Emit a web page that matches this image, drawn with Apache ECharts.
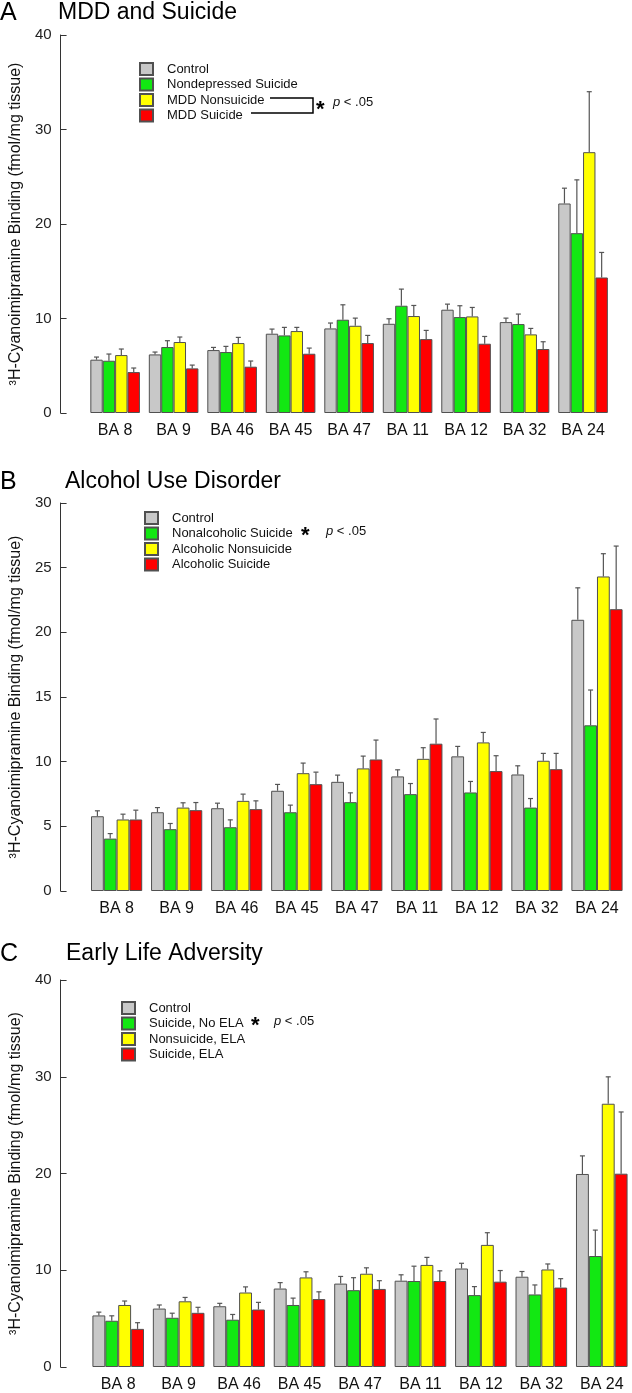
<!DOCTYPE html>
<html>
<head>
<meta charset="utf-8">
<script src="https://cdn.jsdelivr.net/npm/echarts@6/dist/echarts.min.js"></script>
<style>
html,body{margin:0;padding:0;background:#fff;}
#chart{width:632px;height:1393px;}
</style>
</head>
<body>
<div id="chart"></div>
<script>
// ---------- DATA ----------
const categories = ['BA 8','BA 9','BA 46','BA 45','BA 47','BA 11','BA 12','BA 32','BA 24'];

// Panel A: MDD and Suicide (mean, SEM)
const aNames = ['Control','Nondepressed Suicide','MDD Nonsuicide','MDD Suicide'];
const aControl     = [5.64,6.20,6.66,8.39,8.95,9.44,10.93,9.62,22.17];
const aControlSem  = [0.28,0.25,0.28,0.49,0.57,0.53,0.59,0.42,1.62];
const aNondepSui   = [5.53,6.98,6.45,8.21,9.87,11.35,10.15,9.41,19.03];
const aNondepSuiSem= [0.71,0.67,0.60,0.85,1.58,1.76,1.20,1.06,5.64];
const aMddNonsui   = [6.13,7.51,7.40,8.67,9.23,10.26,10.22,8.32,27.60];
const aMddNonsuiSem= [0.64,0.53,0.60,0.39,0.81,1.12,0.95,0.63,6.40];
const aMddSui      = [4.33,4.72,4.90,6.27,7.40,7.82,7.33,6.77,14.34];
const aMddSuiSem   = [0.43,0.35,0.60,0.60,0.81,0.92,0.77,0.77,2.65];
const aTicks = [0,10,20,30,40];

// Panel B: Alcohol Use Disorder
const bNames = ['Control','Nonalcoholic Suicide','Alcoholic Nonsuicide','Alcoholic Suicide'];
const bControl     = [5.78,6.09,6.40,7.75,8.44,8.86,10.41,9.01,20.97];
const bControlSem  = [0.42,0.36,0.39,0.49,0.52,0.51,0.77,0.67,2.47];
const bNonalcSui   = [4.05,4.78,4.93,6.09,6.87,7.49,7.62,6.45,12.81];
const bNonalcSuiSem= [0.39,0.44,0.57,0.55,0.72,0.82,0.85,0.70,2.73];
const bAlcNonsui   = [5.53,6.45,6.97,9.11,9.48,10.22,11.49,10.07,24.32];
const bAlcNonsuiSem= [0.41,0.37,0.52,0.78,0.95,0.86,0.77,0.57,1.76];
const bAlcSui      = [5.53,6.25,6.33,8.26,10.17,11.39,9.27,9.42,21.79];
const bAlcSuiSem   = [0.72,0.59,0.64,0.93,1.50,1.91,1.19,1.22,4.88];
const bTicks = [0,5,10,15,20,25,30];

// Panel C: Early Life Adversity
const cNames = ['Control','Suicide, No ELA','Nonsuicide, ELA','Suicide, ELA'];
const cControl     = [5.33,6.04,6.28,8.11,8.62,8.92,10.18,9.33,19.95];
const cControlSem  = [0.34,0.37,0.30,0.61,0.74,0.61,0.54,0.54,1.87];
const cSuiNoEla    = [4.78,5.09,4.89,6.41,7.94,8.89,7.43,7.50,11.47];
const cSuiNoElaSem = [0.51,0.47,0.54,0.71,1.29,1.53,0.88,0.98,2.68];
const cNonsuiEla   = [6.41,6.79,7.70,9.26,9.64,10.55,12.62,10.08,27.21];
const cNonsuiElaSem= [0.41,0.40,0.58,0.58,0.61,0.78,1.26,0.57,2.78];
const cSuiEla      = [3.94,5.60,5.94,7.02,8.07,8.89,8.82,8.21,19.98];
const cSuiElaSem   = [0.64,0.57,0.74,0.75,0.85,1.05,1.15,0.92,6.38];
const cTicks = [0,10,20,30,40];

const yTitle = '\u00B3H-Cyanoimipramine Binding (fmol/mg tissue)';

// ---------- STYLE / LAYOUT ----------
const FONT = '"Liberation Sans", Arial, Helvetica, sans-serif';
const colors = ['#c8c8c8','#12e812','#ffff00','#ff0000'];
const panels = [
  {letter:'A', title:'MDD and Suicide', names:aNames, means:[aControl,aNondepSui,aMddNonsui,aMddSui],
   sems:[aControlSem,aNondepSuiSem,aMddNonsuiSem,aMddSuiSem], ticks:aTicks,
   grid:{left:77.3,top:35,width:535,height:378}, axisX:52, bw:12.4,
   titleTop:1, titleLeft:58, legend:{left:139,top:62}},
  {letter:'B', title:'Alcohol Use Disorder', names:bNames, means:[bControl,bNonalcSui,bAlcNonsui,bAlcSui],
   sems:[bControlSem,bNonalcSuiSem,bAlcNonsuiSem,bAlcSuiSem], ticks:bTicks,
   grid:{left:78,top:503,width:549,height:388}, axisX:52, bw:12.8,
   titleTop:470, titleLeft:65, legend:{left:144,top:511}},
  {letter:'C', title:'Early Life Adversity', names:cNames, means:[cControl,cSuiNoEla,cNonsuiEla,cSuiEla],
   sems:[cControlSem,cSuiNoElaSem,cNonsuiElaSem,cSuiElaSem], ticks:cTicks,
   grid:{left:79.9,top:980,width:556,height:392}, axisX:52.5, bw:12.9,
   titleTop:942, titleLeft:66, legend:{left:121,top:1001}}
];

const option = {
  animation:false,
  backgroundColor:'#fff',
  textStyle:{fontFamily:FONT},
  title:[], grid:[], xAxis:[], yAxis:[], legend:[], series:[], graphic:[]
};

panels.forEach((p, pi) => {
  option.title.push({text:p.letter, left:0, top:p.titleTop, padding:0,
    textStyle:{fontFamily:FONT, fontSize:25, fontWeight:'normal', color:'#000'}});
  option.title.push({text:p.title, left:p.titleLeft, top:p.titleTop, padding:0,
    textStyle:{fontFamily:FONT, fontSize:23, fontWeight:'normal', color:'#000'}});
  option.grid.push(Object.assign({containLabel:false}, p.grid));
  option.xAxis.push({type:'category', gridIndex:pi, data:categories,
    axisLine:{show:false}, axisTick:{show:false},
    axisLabel:{fontFamily:FONT, fontSize:16, color:'#111', margin:10, interval:0}});
  const tmax = p.ticks[p.ticks.length-1];
  option.yAxis.push({type:'value', gridIndex:pi, min:p.ticks[0], max:tmax, interval:p.ticks[1]-p.ticks[0],
    offset:p.grid.left - p.axisX,
    axisLine:{show:true, lineStyle:{color:'#333', width:1}},
    axisTick:{show:true, inside:true, length:6, lineStyle:{color:'#333'}},
    splitLine:{show:false},
    axisLabel:{fontFamily:FONT, fontSize:15, color:'#222', margin:9},
    name:yTitle, nameLocation:'middle', nameRotate:90, nameGap:36,
    nameTextStyle:{fontFamily:FONT, fontSize:16, color:'#111'}});
  option.legend.push({data:p.names, orient:'vertical', left:p.legend.left, top:p.legend.top,
    icon:'rect', itemWidth:13, itemHeight:12, itemGap:1.5, padding:0, selectedMode:false,
    textStyle:{fontFamily:FONT, fontSize:13, color:'#111', padding:[0,0,0,9]}});
  p.means.forEach((vals, si) => {
    option.series.push({type:'bar', name:p.names[si], xAxisIndex:pi, yAxisIndex:pi,
      data:vals, barWidth:p.bw, barGap:'0%',
      itemStyle:{color:colors[si], borderColor:'#505050', borderWidth:1}});
  });
  const errData = [];
  p.means.forEach((vals, si) => vals.forEach((v, ci) => errData.push([ci, v, p.sems[si][ci], si])));
  const bw = p.bw;
  option.series.push({type:'custom', xAxisIndex:pi, yAxisIndex:pi, data:errData, z:5,
    renderItem:function(params, api){
      const ci = api.value(0), m = api.value(1), e = api.value(2), si = api.value(3);
      const p0 = api.coord([ci, m]);
      const p1 = api.coord([ci, m + e]);
      const x = p0[0] + (si - 1.5) * bw;
      const st = {stroke:'#555', lineWidth:1.2};
      return {type:'group', children:[
        {type:'line', shape:{x1:x, y1:p0[1], x2:x, y2:p1[1]}, style:st},
        {type:'line', shape:{x1:x-2.5, y1:p1[1], x2:x+2.5, y2:p1[1]}, style:st}
      ]};
    }});
});

// significance annotations
const pRich = {i:{fontFamily:FONT,fontSize:13,fontStyle:'italic',fill:'#111'},n:{fontFamily:FONT,fontSize:13,fill:'#111'}};
option.graphic = [
  {type:'polyline', shape:{points:[[270,98],[313,98],[313,113],[251,113]]}, style:{stroke:'#000', lineWidth:1.5, fill:null}},
  {type:'text', left:316, top:99, style:{text:'*', font:'bold 22px '+FONT, fill:'#000'}},
  {type:'text', left:333, top:96, style:{rich:pRich, text:'{i|p}{n| < .05}'}},
  {type:'text', left:301, top:525, style:{text:'*', font:'bold 22px '+FONT, fill:'#000'}},
  {type:'text', left:326, top:525, style:{rich:pRich, text:'{i|p}{n| < .05}'}},
  {type:'text', left:251, top:1015, style:{text:'*', font:'bold 22px '+FONT, fill:'#000'}},
  {type:'text', left:274, top:1015, style:{rich:pRich, text:'{i|p}{n| < .05}'}}
];

const chart = echarts.init(document.getElementById('chart'), null, {renderer:'canvas'});
chart.setOption(option);
</script>
</body>
</html>
